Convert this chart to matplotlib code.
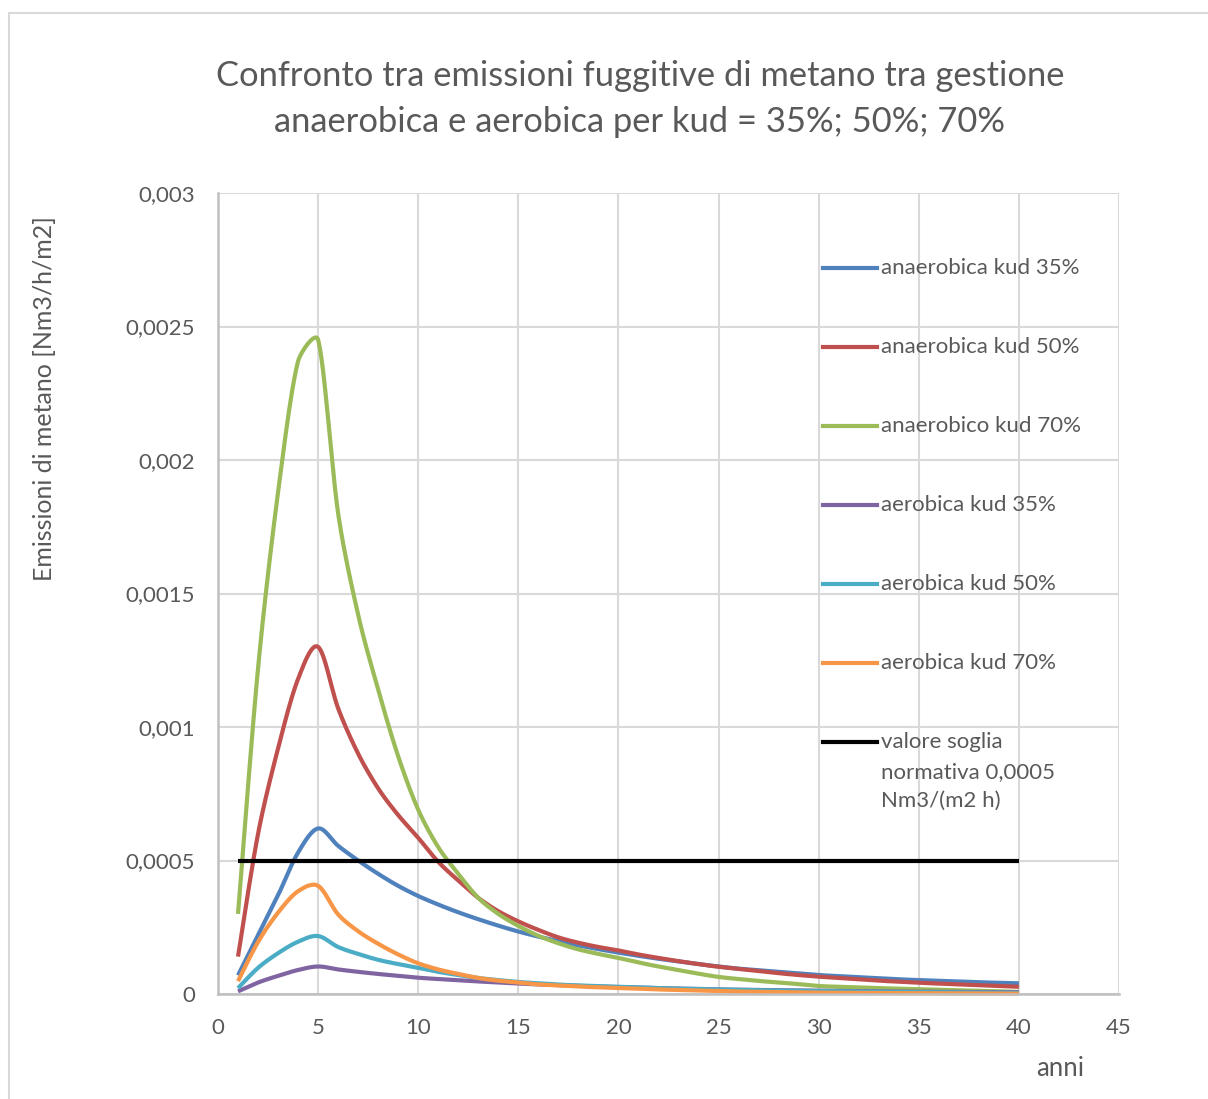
import numpy as np
import matplotlib
matplotlib.use("Agg")
import matplotlib.pyplot as plt
from matplotlib.lines import Line2D
from matplotlib.ticker import FuncFormatter, MultipleLocator

plt.rcParams['font.family'] = ['Lato', 'DejaVu Sans']

# ---- data -------------------------------------------------------------
anni = list(range(1, 41))

anaerobica_35 = [0.00007, 0.00022, 0.00037, 0.00053, 0.00062, 0.000555, 0.000500, 0.000450,
                 0.000405, 0.000367, 0.000335, 0.000306, 0.000280, 0.000256, 0.000234,
                 0.000215, 0.000198, 0.000182, 0.000168, 0.000155, 0.000143, 0.000132,
                 0.000122, 0.000112, 0.000103, 0.000095, 0.000089, 0.000083, 0.000077,
                 0.000071, 0.000067, 0.000063, 0.000059, 0.000055, 0.000052, 0.000049,
                 0.000047, 0.000044, 0.000042, 0.000040]

anaerobica_50 = [0.00014, 0.00060, 0.00092, 0.00118, 0.00130, 0.00107, 0.00090, 0.00077,
                 0.00067, 0.000585, 0.000495, 0.000425, 0.000360, 0.000310, 0.000272,
                 0.000240, 0.000212, 0.000192, 0.000176, 0.000163, 0.000148, 0.000135,
                 0.000123, 0.000112, 0.000102, 0.000094, 0.000086, 0.000078, 0.000071,
                 0.000065, 0.000060, 0.000055, 0.000050, 0.000046, 0.000042, 0.000039,
                 0.000036, 0.000033, 0.000030, 0.000027]

anaerobico_70 = [0.00030, 0.00122, 0.00188, 0.00237, 0.00245, 0.00180, 0.00142, 0.00114,
                 0.00089, 0.00069, 0.00055, 0.00045, 0.00036, 0.00030, 0.000255,
                 0.000218, 0.000190, 0.000167, 0.000150, 0.000135, 0.000118, 0.000103,
                 0.000090, 0.000076, 0.000064, 0.000056, 0.000049, 0.000043, 0.000037,
                 0.000030, 0.000027, 0.000025, 0.000022, 0.000020, 0.000018, 0.000016,
                 0.000014, 0.000012, 0.000010, 0.000008]

aerobica_35 = [0.000010, 0.000043, 0.000068, 0.000090, 0.000103, 0.000092, 0.000083,
               0.000075, 0.000068, 0.000061, 0.000056, 0.000051, 0.000047, 0.000043,
               0.000039, 0.000036, 0.000033, 0.000030, 0.000028, 0.000026, 0.000024,
               0.000022, 0.000020, 0.000019, 0.000017, 0.000016, 0.000015, 0.000014,
               0.000013, 0.000012, 0.000011, 0.0000105, 0.0000098, 0.0000092, 0.0000087,
               0.0000082, 0.0000078, 0.0000073, 0.0000070, 0.0000067]

aerobica_50 = [0.000022, 0.000098, 0.000153, 0.000196, 0.000217, 0.000176, 0.000150,
               0.000128, 0.000112, 0.000098, 0.000083, 0.000071, 0.000060, 0.000052,
               0.000045, 0.000040, 0.000035, 0.000032, 0.000029, 0.000027, 0.000025,
               0.000022, 0.000020, 0.000019, 0.000017, 0.000016, 0.000014, 0.000013,
               0.000012, 0.000011, 0.000010, 0.0000092, 0.0000083, 0.0000077, 0.0000070,
               0.0000065, 0.0000060, 0.0000055, 0.0000050, 0.0000045]

aerobica_70 = [0.000048, 0.000195, 0.000305, 0.000385, 0.000405, 0.000298, 0.000235,
               0.000188, 0.000148, 0.000115, 0.000092, 0.000075, 0.000060, 0.000050,
               0.000043, 0.000036, 0.000032, 0.000028, 0.000025, 0.000022, 0.000020,
               0.000017, 0.000015, 0.000013, 0.000011, 0.0000093, 0.0000082, 0.0000072,
               0.0000062, 0.0000050, 0.0000045, 0.0000042, 0.0000037, 0.0000033,
               0.0000030, 0.0000027, 0.0000023, 0.0000020, 0.0000017, 0.0000013]

soglia = 0.0005
soglia_anni = [1, 40]

labels = ["anaerobica kud 35%", "anaerobica kud 50%", "anaerobico kud 70%",
          "aerobica kud 35%", "aerobica kud 50%", "aerobica kud 70%",
          "valore soglia\nnormativa 0,0005\nNm3/(m2 h)"]
colors = ["#4F81BD", "#C0504D", "#9BBB59", "#8064A2", "#4BACC6", "#F79646", "#000000"]

title = "Confronto tra emissioni fuggitive di metano tra gestione\nanaerobica e aerobica per kud = 35%; 50%; 70%"
ylabel = "Emissioni di metano [Nm3/h/m2]"
xlabel = "anni"


def smooth_path(ax, x, y, steps=30):
    """Catmull-Rom style Bezier through every data point, computed in screen
    space; each control arm is capped at a third of its segment's length so
    short segments beside long ones do not overshoot."""
    pts = ax.transData.transform(np.column_stack([np.asarray(x, float), np.asarray(y, float)]))
    n = len(pts)
    tang = np.array([(pts[min(i + 1, n - 1)] - pts[max(i - 1, 0)]) / 6.0 for i in range(n)])
    tlen = np.hypot(tang[:, 0], tang[:, 1])
    out = [pts[0]]
    t = np.linspace(0, 1, steps + 1)[1:, None]
    for i in range(n - 1):
        p1, p2 = pts[i], pts[i + 1]
        cap = np.hypot(*(p2 - p1)) / 3.0
        k1 = min(1.0, cap / tlen[i]) if tlen[i] > 0 else 0.0
        k2 = min(1.0, cap / tlen[i + 1]) if tlen[i + 1] > 0 else 0.0
        c1 = p1 + tang[i] * k1
        c2 = p2 - tang[i + 1] * k2
        seg = ((1 - t) ** 3) * p1 + 3 * ((1 - t) ** 2) * t * c1 + 3 * (1 - t) * t ** 2 * c2 + t ** 3 * p2
        out.extend(seg)
    out = ax.transData.inverted().transform(np.array(out))
    return out[:, 0], out[:, 1]


# ---- figure -------------------------------------------------------------
W, H = 1208, 1099
fig = plt.figure(figsize=(W / 100, H / 100), dpi=100)
fig.patch.set_facecolor("white")


def fx(px):
    return px / W


def fy(py):
    return 1 - py / H


text_col = "#595959"
grid_col = "#D9D9D9"
axis_col = "#BFBFBF"

ax = fig.add_axes([fx(218), fy(994), fx(1119) - fx(218), fy(193) - fy(994)])
ax.set_xlim(0, 45)
ax.set_ylim(0, 0.003)
ax.xaxis.set_major_locator(MultipleLocator(5))
ax.yaxis.set_major_locator(MultipleLocator(0.0005))
ax.yaxis.set_major_formatter(FuncFormatter(lambda v, _: f"{v:g}".replace(".", ",")))
ax.xaxis.set_major_formatter(FuncFormatter(lambda v, _: f"{v:g}"))
ax.grid(True, color=grid_col, linewidth=1.5)
ax.set_axisbelow(True)
for side in ("top", "right"):
    ax.spines[side].set_visible(False)
for side in ("left", "bottom"):
    ax.spines[side].set_color(axis_col)
    ax.spines[side].set_linewidth(1.8)
ax.tick_params(length=0, labelsize=16, labelcolor=text_col)
ax.tick_params(axis="y", pad=16.5)
ax.tick_params(axis="x", pad=17)

series = [anaerobica_35, anaerobica_50, anaerobico_70, aerobica_35, aerobica_50, aerobica_70]
for vals, col in zip(series, colors):
    sx, sy = smooth_path(ax, anni, vals)
    ax.plot(sx, sy, color=col, linewidth=3.0, solid_capstyle="butt", clip_on=False)
ax.plot(soglia_anni, [soglia, soglia], color=colors[6], linewidth=3.0, solid_capstyle="butt")

# legend drawn inside the plotting area, no frame
leg_y = [268, 347, 426, 505, 584, 663, 742]
for lab, col, ly in zip(labels, colors, leg_y):
    fig.add_artist(Line2D([fx(823), fx(877)], [fy(ly), fy(ly)], color=col, linewidth=3.0,
                          transform=fig.transFigure))
    if "\n" in lab:
        fig.text(fx(881), fy(ly - 10), lab, ha="left", va="top", fontsize=16,
                 color=text_col, linespacing=1.6)
    else:
        fig.text(fx(881), fy(ly), lab, ha="left", va="center", fontsize=16, color=text_col)

fig.text(fx(640), fy(99), title, ha="center", va="center", fontsize=24.8,
         color=text_col, linespacing=1.55)
fig.text(fx(45), fy(399), ylabel, ha="center", va="center", rotation=90,
         fontsize=18, color=text_col)
fig.text(fx(1060), fy(1068), xlabel, ha="center", va="center", fontsize=18.5, color=text_col)

# outer chart border
fig.add_artist(Line2D([fx(8.5), fx(8.5)], [fy(12.5), 0], color=grid_col, linewidth=1.5,
                      transform=fig.transFigure))
fig.add_artist(Line2D([fx(8.5), 1], [fy(12.5), fy(12.5)], color=grid_col, linewidth=1.5,
                      transform=fig.transFigure))

fig.savefig("out.png", dpi=100, facecolor="white")
